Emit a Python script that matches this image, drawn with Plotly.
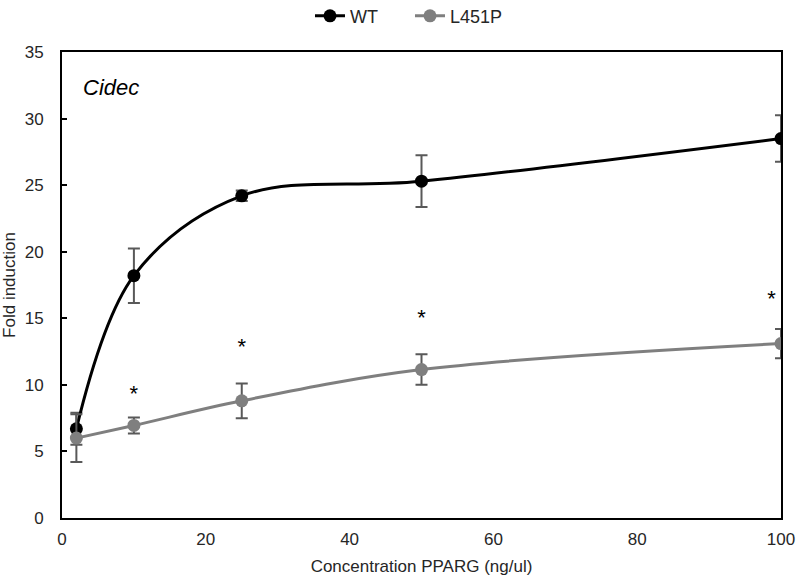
import plotly.graph_objects as go

conc = [2, 10, 25, 50, 100]
wt = [6.7, 18.2, 24.2, 25.3, 28.5]
wt_err = [1.2, 2.05, 0.4, 1.95, 1.75]
mut = [6.0, 6.95, 8.8, 11.15, 13.1]
mut_err = [1.8, 0.6, 1.3, 1.15, 1.1]
sig_x = [10, 25, 50, 98.7]
sig_y = [9.2, 12.7, 14.9, 16.3]

FONT = "Liberation Sans, Arial"
TXT = "#262626"

fig = go.Figure()
fig.add_trace(go.Scatter(
    x=conc, y=wt, name="WT", mode="lines+markers",
    line=dict(color="black", width=3, shape="spline", smoothing=1.0),
    marker=dict(color="black", size=13),
    error_y=dict(type="data", array=wt_err, color="#595959", thickness=2, width=6),
))
fig.add_trace(go.Scatter(
    x=conc, y=mut, name="L451P", mode="lines+markers",
    line=dict(color="#7f7f7f", width=3, shape="spline", smoothing=1.0),
    marker=dict(color="#7f7f7f", size=13),
    error_y=dict(type="data", array=mut_err, color="#595959", thickness=2, width=6),
))
fig.add_trace(go.Scatter(
    x=sig_x, y=sig_y, mode="text", text=["*"] * len(sig_x),
    textfont=dict(size=22, color="black", family=FONT),
    showlegend=False, hoverinfo="skip",
))
fig.add_annotation(x=2.7, y=32.3, xref="x", yref="y", text="<i>Cidec</i>",
                   showarrow=False, xanchor="left",
                   font=dict(size=22, color="black", family=FONT))

axis_common = dict(showline=True, linecolor="black", linewidth=2, mirror=True,
                   showgrid=False, zeroline=False, automargin=False,
                   ticklabeloverflow="allow",
                   tickfont=dict(size=17, color=TXT, family=FONT))
fig.update_layout(
    width=798, height=581,
    margin=dict(l=62, r=17, t=52, b=63, autoexpand=False),
    paper_bgcolor="white", plot_bgcolor="white",
    font=dict(family=FONT, color=TXT),
    legend=dict(orientation="h", x=0.484, xanchor="center", y=1.077, yanchor="middle",
                entrywidth=55,
                font=dict(size=18, color=TXT, family=FONT)),
    xaxis=dict(range=[0, 100], dtick=20, ticks="", ticklabelstandoff=5,
               title=dict(text="Concentration PPARG (ng/ul)",
                          font=dict(size=17, color=TXT), standoff=12), **axis_common),
    yaxis=dict(range=[0, 35], dtick=5, ticks="inside", ticklen=5, tickwidth=1.5,
               tickcolor="black", ticklabelstandoff=13,
               title=dict(text="Fold induction",
                          font=dict(size=17, color=TXT), standoff=7), **axis_common),
)
fig.write_html("out.html", config={"displayModeBar": False},
               post_script="document.body.style.margin='0';")
